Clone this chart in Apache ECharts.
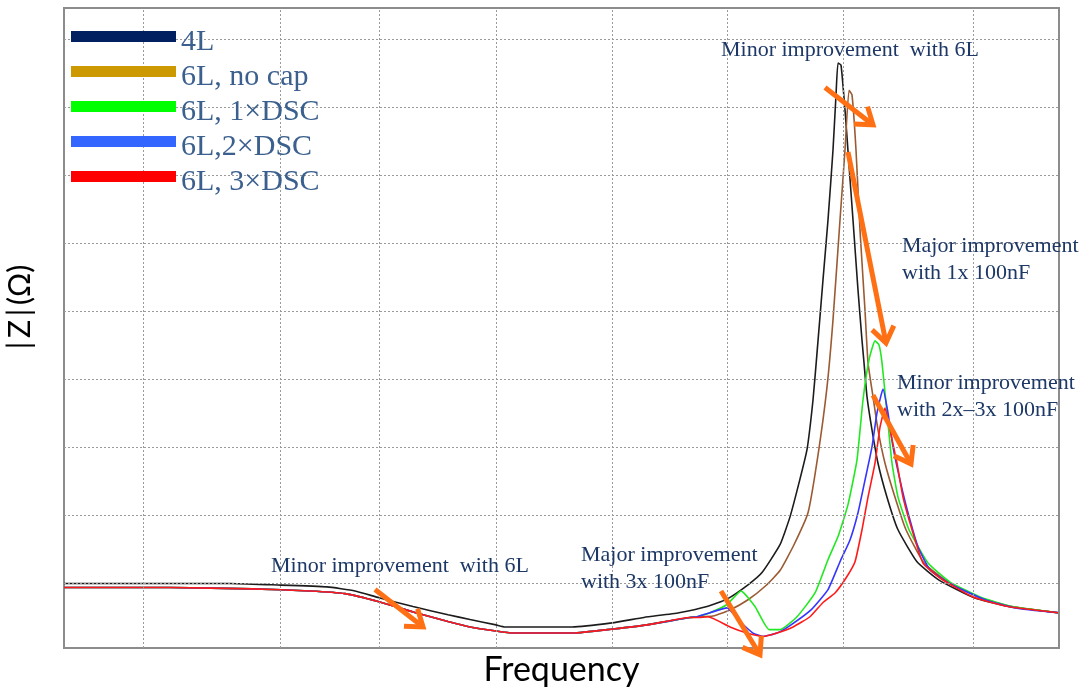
<!DOCTYPE html>
<html>
<head>
<meta charset="utf-8">
<script src="https://cdn.jsdelivr.net/npm/echarts@6/dist/echarts.min.js"></script>
<style>
  html, body { margin: 0; padding: 0; background: #ffffff; }
  #chart { width: 1085px; height: 688px; }
</style>
</head>
<body>
<div id="chart"></div>
<script>
// Impedance magnitude |Z| versus frequency (both in log units, unlabelled)
const seriesNames = ['4L', '6L, no cap', '6L, 1×DSC', '6L,2×DSC', '6L, 3×DSC'];
const legendColors = ['#002060', '#cc9900', '#00ff00', '#3366ff', '#ff0000'];
const curveColors = ['#1c1c1c', '#9b5b32', '#22e822', '#3535ff', '#ff1a1a'];

// Grid positions (frequency decades / impedance steps)
const freqGrid = [7.9, 21.6, 31.5, 43.2, 54.8, 66.3, 77.9, 90.9];
const zGrid = [0, 1, 2, 3, 4, 5, 6, 7, 8];

// 4L board
const z4L = [
  [0, -0.01], [16.6, -0.01], [20.8, -0.03], [26.3, -0.06], [29.1, -0.12], [31.5, -0.22],
  [34.9, -0.35], [38.4, -0.47], [40.6, -0.54], [43.2, -0.62], [44.1, -0.65], [50.8, -0.65],
  [54.8, -0.59], [58.0, -0.51], [61.5, -0.44], [64.3, -0.35], [66.3, -0.24], [68.4, -0.03],
  [69.8, 0.15], [71.6, 0.56], [72.6, 0.97], [73.5, 1.47], [74.3, 1.96], [74.9, 2.69],
  [75.3, 3.38], [75.9, 4.46], [76.4, 5.34], [76.9, 6.37], [77.2, 7.18], [77.4, 7.65],
  [77.7, 7.62], [78.1, 6.96], [78.5, 6.15], [78.9, 5.34], [79.4, 4.31], [79.8, 3.57],
  [80.0, 3.24], [80.3, 2.74], [80.8, 2.25], [81.4, 1.76], [82.3, 1.26], [83.4, 0.78],
  [85.3, 0.31], [87.5, 0.04], [91.0, -0.22], [94.5, -0.35], [99.4, -0.44]
];

// 6L boards: common low-frequency part
const z6LLow = [
  [0, -0.07], [10.6, -0.07], [18.8, -0.09], [24.6, -0.12], [28.1, -0.16], [31.5, -0.28],
  [34.9, -0.43], [38.4, -0.57], [40.6, -0.65], [43.2, -0.71], [44.9, -0.74], [50.9, -0.74],
  [54.9, -0.68], [58.3, -0.62], [62.6, -0.51]
];

const z6LNoCapHigh = [
  [64.9, -0.49], [66.6, -0.40], [68.4, -0.25], [70.2, -0.04], [71.6, 0.18], [73.0, 0.56],
  [74.4, 1.03], [75.4, 1.88], [76.3, 2.88], [76.9, 3.87], [77.6, 5.34], [78.1, 6.37],
  [78.5, 7.25], [78.8, 7.18], [79.2, 6.37], [79.6, 5.19], [80.1, 4.01], [80.4, 3.24],
  [80.9, 2.74], [81.4, 2.25], [82.1, 1.76], [83.1, 1.26], [84.2, 0.78], [86.0, 0.29],
  [88.4, 0.01], [91.6, -0.22], [94.8, -0.35], [99.4, -0.44]
];

const z6L1DscHigh = [
  [63.3, -0.50], [64.6, -0.44], [66.3, -0.32], [67.7, -0.12], [69.1, -0.35], [70.5, -0.69],
  [71.6, -0.69], [73.3, -0.50], [75.1, -0.15], [76.4, 0.34], [77.4, 0.68], [78.4, 1.15],
  [79.3, 1.81], [79.9, 2.69], [80.5, 3.28], [81.1, 3.56], [81.5, 3.50], [81.8, 3.24],
  [82.3, 2.50], [82.8, 1.76], [83.4, 1.26], [84.5, 0.78], [86.4, 0.29], [88.6, 0.01],
  [91.8, -0.22], [94.8, -0.35], [99.4, -0.44]
];

const z6L2DscHigh = [
  [63.3, -0.50], [64.6, -0.44], [66.3, -0.37], [67.6, -0.57], [68.9, -0.74], [69.9, -0.79],
  [71.3, -0.74], [72.6, -0.63], [74.7, -0.40], [76.4, -0.10], [77.6, 0.31], [78.6, 0.63],
  [79.4, 1.03], [80.1, 1.51], [80.8, 2.00], [81.3, 2.50], [81.9, 2.85], [82.4, 2.50],
  [82.9, 2.00], [83.6, 1.51], [84.4, 1.03], [85.4, 0.53], [86.6, 0.19], [88.8, -0.03],
  [92.1, -0.25], [95.1, -0.37], [99.4, -0.44]
];

const z6L3DscHigh = [
  [63.3, -0.51], [64.4, -0.50], [66.6, -0.65], [68.3, -0.74], [69.9, -0.79], [71.3, -0.74],
  [72.9, -0.65], [74.6, -0.50], [75.9, -0.29], [77.1, -0.15], [78.2, 0.07], [79.1, 0.31],
  [79.8, 0.78], [80.4, 1.26], [81.1, 1.76], [81.6, 2.29], [82.1, 2.57], [82.6, 2.25],
  [83.3, 1.76], [83.9, 1.26], [84.8, 0.78], [85.9, 0.29], [87.6, 0.07], [90.9, -0.21],
  [94.4, -0.35], [99.4, -0.44]
];

// Annotation arrows, in data units (from -> to)
const arrowNotes = [
  { from: [76.1, 7.29], to: [80.9, 6.74] },
  { from: [78.4, 6.34], to: [82.2, 3.53] },
  { from: [80.9, 2.76], to: [84.7, 1.75] },
  { from: [31.1, -0.10], to: [35.9, -0.65] },
  { from: [65.7, -0.12], to: [69.6, -1.06] }
];

const curves = [
  z4L,
  z6LLow.concat(z6LNoCapHigh),
  z6LLow.concat(z6L1DscHigh),
  z6LLow.concat(z6L2DscHigh),
  z6LLow.concat(z6L3DscHigh)
];

const chart = echarts.init(document.getElementById('chart'), null, { renderer: 'canvas' });

const gridLineSeries = {
  type: 'line',
  name: '__grid',
  data: [],
  z: 1,
  silent: true,
  markLine: {
    silent: true,
    symbol: ['none', 'none'],
    animation: false,
    label: { show: false },
    lineStyle: { color: '#9a9a9a', width: 1, type: [2, 2] },
    emphasis: { disabled: true },
    data: freqGrid.map(v => ({ xAxis: v })).concat(zGrid.map(v => ({ yAxis: v })))
  }
};

// Legend swatch: a thick bar sitting in the upper half of a taller icon box,
// so the label (centred on the box) reads a little below the bar.
const legendSwatch = 'path://M0,0H105V11H0Z M0,22H0.01';

chart.setOption({
  animation: false,
  backgroundColor: '#ffffff',
  grid: {
    left: 64, top: 8, width: 995, height: 640, outerBoundsMode: 'none',
    show: true, borderColor: '#8c8c8c', borderWidth: 2, backgroundColor: 'transparent'
  },
  xAxis: {
    type: 'value', min: 0, max: 99.5,
    name: 'Frequency', nameLocation: 'middle', nameGap: 5,
    nameTextStyle: { fontFamily: 'Lato', fontSize: 34, color: '#000000' },
    axisLine: { show: false }, axisTick: { show: false },
    axisLabel: { show: false }, splitLine: { show: false }
  },
  yAxis: {
    type: 'value', min: -0.96, max: 8.46,
    axisLine: { show: false }, axisTick: { show: false },
    axisLabel: { show: false }, splitLine: { show: false }
  },
  legend: {
    left: 66, top: 22, orient: 'vertical', icon: legendSwatch, z: 30,
    itemWidth: 105, itemHeight: 22, itemGap: 5, selectedMode: false,
    itemStyle: { borderWidth: 0 },
    textStyle: { fontFamily: 'Liberation Serif', fontSize: 30, color: '#3b608e' },
    data: seriesNames.map((n, i) => ({ name: n, itemStyle: { color: legendColors[i], borderWidth: 0 } }))
  },
  series: [gridLineSeries].concat(curves.map((d, i) => ({
    type: 'line',
    name: seriesNames[i],
    data: d,
    showSymbol: false,
    smooth: 0.15,
    z: 2 + i * 0.1,
    color: curveColors[i],
    lineStyle: { color: curveColors[i], width: 1.6 },
    emphasis: { disabled: true }
  })))
});

// Notes and arrows laid over the plot
const noteFont = { fontFamily: 'Liberation Serif', fontSize: 22, fill: '#1d3866', lineHeight: 27, verticalAlign: 'middle', align: 'left' };
const notes = [
  { text: 'Minor improvement  with 6L', x: 721, y: 50 },
  { text: 'Major improvement\nwith 1x 100nF', x: 902, y: 260 },
  { text: 'Minor improvement\nwith 2x\u20133x 100nF', x: 897, y: 397 },
  { text: 'Minor improvement  with 6L', x: 271, y: 566 },
  { text: 'Major improvement\nwith 3x 100nF', x: 581, y: 569 }
];

const arrowColor = '#ff7015';
function arrowElements() {
  const out = [];
  arrowNotes.forEach(a => {
    const p0 = chart.convertToPixel({ gridIndex: 0 }, a.from);
    const p1 = chart.convertToPixel({ gridIndex: 0 }, a.to);
    const ang = Math.atan2(p1[1] - p0[1], p1[0] - p0[0]);
    const L = 19, spread = 0.62;
    const w1 = [p1[0] - L * Math.cos(ang - spread), p1[1] - L * Math.sin(ang - spread)];
    const w2 = [p1[0] - L * Math.cos(ang + spread), p1[1] - L * Math.sin(ang + spread)];
    const end = [p1[0] - 3 * Math.cos(ang), p1[1] - 3 * Math.sin(ang)];
    out.push({ type: 'polyline', z: 20, silent: true, shape: { points: [p0, end] },
      style: { stroke: arrowColor, lineWidth: 5, fill: null } });
    out.push({ type: 'polyline', z: 20, silent: true, shape: { points: [w1, p1, w2] },
      style: { stroke: arrowColor, lineWidth: 5, fill: null, lineJoin: 'miter' } });
  });
  return out;
}

// vertical |Z| title
const zTitle = {
  type: 'text', z: 15, silent: true, x: 20, y: 307, rotation: Math.PI / 2,
  style: {
    text: '|\u2009Z\u2009|\u2009(\u03A9)', fontFamily: 'Lato', fontSize: 30, fill: '#000000',
    align: 'center', verticalAlign: 'middle'
  }
};

chart.setOption({
  graphic: [
    // white panel behind the legend labels
    { type: 'rect', z: 1.5, silent: true, shape: { x: 177, y: 18, width: 263, height: 192 },
      style: { fill: '#ffffff' } },
    zTitle
  ].concat(notes.map(n => ({
    type: 'text', z: 15, silent: true, x: n.x, y: n.y,
    style: Object.assign({ text: n.text }, noteFont)
  }))).concat(arrowElements())
});
</script>
</body>
</html>
